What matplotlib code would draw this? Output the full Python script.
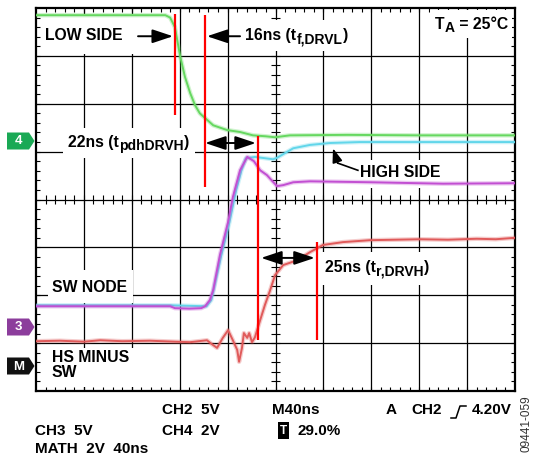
import numpy as np
import matplotlib
matplotlib.use("Agg")
import matplotlib.pyplot as plt
from matplotlib.patches import Rectangle, Polygon
from matplotlib.collections import LineCollection

plt.rcParams['font.family'] = ['Liberation Sans', 'DejaVu Sans']
plt.rcParams['font.weight'] = 'bold'

# traces, in scope divisions (x: 10 div @ 40ns, y: 8 div)
green_t = [0, 2.70, 2.80, 2.90, 3.01, 3.11, 3.22, 3.32, 3.42, 3.53, 3.70, 3.99,
           4.26, 4.53, 4.80, 4.99, 5.30, 6.5, 8.0, 10]
green_v = [7.85, 7.85, 7.80, 7.60, 6.99, 6.56, 6.22, 5.97, 5.80, 5.70, 5.55, 5.45,
           5.41, 5.34, 5.32, 5.30, 5.34, 5.35, 5.34, 5.34]

cyan_t = [0, 2.80, 3.56, 3.66, 3.87, 4.04, 4.18, 4.29, 4.38, 4.57, 4.95, 5.03,
          5.37, 5.72, 6.14, 6.76, 10]
cyan_v = [1.79, 1.79, 1.77, 1.90, 2.84, 3.53, 4.20, 4.61, 4.86, 4.89, 4.84, 4.87,
          5.07, 5.14, 5.18, 5.20, 5.20]

magenta_t = [0, 2.80, 2.90, 3.20, 3.45, 3.53, 3.63, 3.70, 3.84, 4.01, 4.11, 4.26,
             4.41, 4.55, 4.68, 4.82, 5.03, 5.16, 5.37, 5.72, 7.0, 8.5, 10]
magenta_v = [1.77, 1.77, 1.73, 1.72, 1.73, 1.77, 1.90, 2.11, 2.84, 3.53, 4.05, 4.61,
             4.89, 4.80, 4.61, 4.51, 4.28, 4.30, 4.36, 4.38, 4.36, 4.33, 4.34]

red_t = [0, 0.5, 1.0, 1.34, 1.8, 2.38, 2.9, 3.22, 3.57, 3.67, 3.78, 3.90, 4.01,
         4.11, 4.20, 4.24, 4.30, 4.34, 4.41, 4.45, 4.51, 4.57, 4.68, 4.78, 4.89,
         4.99, 5.16, 5.45, 5.72, 5.99, 6.41, 6.97, 7.5, 8.02, 8.6, 9.2, 9.6, 10]
red_v = [1.04, 1.05, 1.03, 1.06, 1.04, 1.05, 1.03, 1.02, 1.06, 0.98, 0.90, 1.11, 1.27,
         1.06, 0.86, 0.61, 0.90, 1.21, 1.11, 1.21, 1.02, 1.12, 1.48, 1.80, 2.11,
         2.42, 2.63, 2.73, 2.90, 3.05, 3.11, 3.15, 3.16, 3.17, 3.16, 3.18, 3.17, 3.20]

# red timing cursors
cursor_x = [2.90, 3.52, 4.63, 5.87]
cursor_lo = [5.76, 4.26, 1.06, 1.06]
cursor_hi = [7.87, 7.85, 5.32, 3.11]

W, H = 535, 463
fig = plt.figure(figsize=(W / 100, H / 100), dpi=100)

# overlay in pixel coords for things outside the graticule
ov = fig.add_axes([0, 0, 1, 1])
ov.set_xlim(0, W)
ov.set_ylim(H, 0)
ov.axis('off')

ax = fig.add_axes([36 / W, (H - 391) / H, 479 / W, 383 / H])
ax.set_xlim(0, 10)
ax.set_ylim(0, 8)
ax.set_xticks([])
ax.set_yticks([])
for s in ax.spines.values():
    s.set_linewidth(1.6)

# graticule
for i in range(1, 10):
    ax.axvline(i, color='k', lw=0.9, zorder=1)
for j in range(1, 8):
    ax.axhline(j, color='k', lw=0.9, zorder=1)

segs = []
tl = 0.09
for t in np.arange(0.2, 10, 0.2):
    segs.append([(t, 0), (t, tl)])
    segs.append([(t, 8), (t, 8 - tl)])
    segs.append([(t, 4 - tl), (t, 4 + tl)])
for t in np.arange(0.2, 8, 0.2):
    segs.append([(0, t), (tl, t)])
    segs.append([(10, t), (10 - tl, t)])
    segs.append([(5 - tl, t), (5 + tl, t)])
ax.add_collection(LineCollection(segs, colors='k', linewidths=0.8, zorder=1))

# white label backgrounds that break the grid
boxes = [(0.13, 7.04, 1.98, 0.83), (4.32, 7.10, 2.34, 0.64), (0.56, 4.86, 2.76, 0.63),
         (6.66, 4.24, 1.88, 0.58), (0.25, 1.84, 1.78, 0.69), (0.25, 0.08, 1.82, 0.82),
         (5.93, 2.21, 2.34, 0.69), (8.23, 7.37, 1.71, 0.58)]
for bx in boxes:
    ax.add_patch(Rectangle(bx[:2], bx[2], bx[3], facecolor='white', edgecolor='none', zorder=2))

# traces
for t, v, c in [(green_t, green_v, '#66d860'), (cyan_t, cyan_v, '#62d6ea'),
                (magenta_t, magenta_v, '#c24fd2'), (red_t, red_v, '#e05a5a')]:
    ax.plot(t, v, color=c, lw=3.2, alpha=0.3, zorder=3, solid_capstyle='round')
    ax.plot(t, v, color=c, lw=1.4, zorder=3)

ax.vlines(cursor_x, cursor_lo, cursor_hi, colors='#ff0000', lw=1.6, zorder=4)

# arrows
ah = dict(color='k', lw=1.4, mutation_scale=14, shrinkA=0, shrinkB=0)
ax.annotate('', xy=(2.86, 7.41), xytext=(2.13, 7.41),
            arrowprops=dict(arrowstyle='-|>,head_length=0.9,head_width=0.3', **ah), zorder=5)
ax.annotate('', xy=(3.57, 7.41), xytext=(4.26, 7.41),
            arrowprops=dict(arrowstyle='-|>,head_length=0.9,head_width=0.3', **ah), zorder=5)
ax.annotate('', xy=(4.59, 5.18), xytext=(3.53, 5.18),
            arrowprops=dict(arrowstyle='<|-|>,head_length=0.9,head_width=0.3', **ah), zorder=5)
ax.annotate('', xy=(5.82, 2.78), xytext=(4.70, 2.78),
            arrowprops=dict(arrowstyle='<|-|>,head_length=0.9,head_width=0.3', **ah), zorder=5)
ax.plot([6.72, 6.30], [4.61, 4.76], color='k', lw=1.2, zorder=5)
ax.annotate('', xy=(6.20, 5.07), xytext=(6.30, 4.76),
            arrowprops=dict(arrowstyle='-|>,head_length=0.7,head_width=0.25',
                            color='k', lw=1.2, mutation_scale=12, shrinkA=0, shrinkB=0), zorder=5)

LS = 11.3


def sub_label(x, y, main, sub, tail, size=LS, subsize=10):
    m = ax.text(x, y, main, fontsize=size, va='baseline', ha='left', zorder=6)
    s = ax.annotate(sub, xy=(1, 0), xycoords=m, xytext=(0.3, 0), textcoords='offset points',
                    fontsize=subsize, va='baseline', ha='left', zorder=6)
    ax.annotate(tail, xy=(1, 0.5), xycoords=(s, m), xytext=(0.3, 0), textcoords='offset points',
                fontsize=size, va='center', ha='left', zorder=6)


ax.text(0.19, 7.43, 'LOW SIDE', fontsize=LS, va='center', zorder=6)
sub_label(4.36, 7.33, '16ns (t', 'f,DRVL', ')')
sub_label(0.67, 5.09, '22ns (t', 'pdhDRVH', ')')
sub_label(6.03, 2.48, '25ns (t', 'r,DRVH', ')')
sub_label(8.33, 7.56, 'T', 'A', ' = 25°C')
ax.text(6.76, 4.57, 'HIGH SIDE', fontsize=LS, va='center', zorder=6)
ax.text(0.33, 2.17, 'SW NODE', fontsize=LS, va='center', zorder=6)
ax.text(0.33, 0.69, 'HS MINUS', fontsize=LS, va='center', zorder=6)
ax.text(0.33, 0.38, 'SW', fontsize=LS, va='center', zorder=6)

# channel tags on the left
for cy, lab, col in [(141, '4', '#1aa955'), (327, '3', '#8c3d9c'), (366, 'M', '#111111')]:
    ov.add_patch(Polygon([(7, cy - 8.5), (29, cy - 8.5), (34.5, cy), (29, cy + 8.5), (7, cy + 8.5)],
                         closed=True, facecolor=col, edgecolor='none'))
    ov.text(18.5, cy + 0.5, lab, color='white', fontsize=9.5, ha='center', va='center')

# readout text below the graticule
fs = 11
ov.text(162, 410, 'CH2  5V', fontsize=fs, va='center')
ov.text(272, 410, 'M40ns', fontsize=fs, va='center')
ov.text(386, 410, 'A', fontsize=fs, va='center')
ov.text(411, 410, 'CH2', fontsize=fs, va='center')
ov.plot([451, 456, 460, 466], [418, 418, 406, 406], color='k', lw=1.1)
ov.text(472, 410, '4.20V', fontsize=fs, va='center')
ov.text(35, 431, 'CH3  5V', fontsize=fs, va='center')
ov.text(162, 431, 'CH4  2V', fontsize=fs, va='center')
ov.text(283.5, 430.5, 'T', fontsize=8.5, color='white', ha='center', va='center',
        bbox=dict(boxstyle='square,pad=0.18', facecolor='black', edgecolor='none'))
ov.text(297, 431, '29.0%', fontsize=fs, va='center')
ov.text(35, 449, 'MATH  2V  40ns', fontsize=fs, va='center')
ov.text(527, 424, '09441-059', fontsize=8.5, fontweight='normal', color='#333333',
        rotation=90, ha='center', va='center')

fig.savefig('out.png', dpi=100)
